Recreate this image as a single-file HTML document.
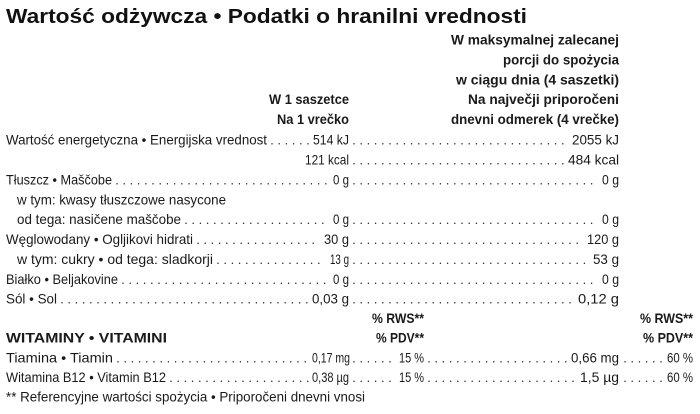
<!DOCTYPE html>
<html>
<head>
<meta charset="utf-8">
<style>
  html,body{margin:0;padding:0;background:#fff;}
  body{width:700px;height:414px;overflow:hidden;}
  svg{display:block;}
  text{font-family:"Liberation Sans","Noto Sans CJK JP",sans-serif;fill:#1a1a1a;}
  .t{font-size:20px;font-weight:bold;fill:#111;}
  .b{font-size:14px;font-weight:bold;}
  .r{font-size:14px;}
  line.d{stroke:#2a2a2a;stroke-width:1.5;stroke-linecap:round;stroke-dasharray:0 7.2;}
</style>
</head>
<body>
<svg width="700" height="414" viewBox="0 0 700 414" xmlns="http://www.w3.org/2000/svg">
  <rect width="700" height="414" fill="#fff"/>
  <!-- Title -->
  <text class="t" x="6" y="23" textLength="521" lengthAdjust="spacingAndGlyphs">Wartość odżywcza • Podatki o hranilni vrednosti</text>

  <!-- Right header -->
  <text class="b" x="451" y="44.5" textLength="168" lengthAdjust="spacingAndGlyphs">W maksymalnej zalecanej</text>
  <text class="b" x="503" y="64.5" textLength="116" lengthAdjust="spacingAndGlyphs">porcji do spożycia</text>
  <text class="b" x="456" y="84.5" textLength="163" lengthAdjust="spacingAndGlyphs">w ciągu dnia (4 saszetki)</text>
  <text class="b" x="468" y="104" textLength="151" lengthAdjust="spacingAndGlyphs">Na največji priporočeni</text>
  <text class="b" x="451" y="124" textLength="168" lengthAdjust="spacingAndGlyphs">dnevni odmerek (4 vrečke)</text>

  <!-- Left header -->
  <text class="b" x="269" y="104" textLength="80" lengthAdjust="spacingAndGlyphs">W 1 saszetce</text>
  <text class="b" x="277" y="124" textLength="72" lengthAdjust="spacingAndGlyphs">Na 1 vrečko</text>

  <!-- Row 0 -->
  <text class="r" x="6" y="144.5" textLength="261" lengthAdjust="spacingAndGlyphs">Wartość energetyczna • Energijska vrednost</text>
  <line class="d" x1="272" y1="143.7" x2="310" y2="143.7"/>
  <text class="r" x="313" y="144.5" textLength="36" lengthAdjust="spacingAndGlyphs">514 kJ</text>
  <line class="d" x1="354" y1="143.7" x2="563" y2="143.7"/>
  <text class="r" x="572" y="144.5" textLength="47" lengthAdjust="spacingAndGlyphs">2055 kJ</text>

  <!-- Row 1 -->
  <text class="r" x="305" y="164.5" textLength="44" lengthAdjust="spacingAndGlyphs">121 kcal</text>
  <line class="d" x1="354" y1="163.7" x2="563" y2="163.7"/>
  <text class="r" x="568" y="164.5" textLength="51" lengthAdjust="spacingAndGlyphs">484 kcal</text>

  <!-- Row 2 -->
  <text class="r" x="6" y="184.5" textLength="106" lengthAdjust="spacingAndGlyphs">Tłuszcz • Maščobe</text>
  <line class="d" x1="117" y1="183.7" x2="328" y2="183.7"/>
  <text class="r" x="333" y="184.5" textLength="16" lengthAdjust="spacingAndGlyphs">0 g</text>
  <line class="d" x1="354" y1="183.7" x2="597" y2="183.7"/>
  <text class="r" x="602" y="184.5" textLength="17" lengthAdjust="spacingAndGlyphs">0 g</text>

  <!-- Row 3 -->
  <text class="r" x="17" y="204.5" textLength="209" lengthAdjust="spacingAndGlyphs">w tym: kwasy tłuszczowe nasycone</text>

  <!-- Row 4 -->
  <text class="r" x="17" y="224" textLength="164" lengthAdjust="spacingAndGlyphs">od tega: nasičene maščobe</text>
  <line class="d" x1="186" y1="223.2" x2="328" y2="223.2"/>
  <text class="r" x="333" y="224" textLength="16" lengthAdjust="spacingAndGlyphs">0 g</text>
  <line class="d" x1="354" y1="223.2" x2="597" y2="223.2"/>
  <text class="r" x="602" y="224" textLength="17" lengthAdjust="spacingAndGlyphs">0 g</text>

  <!-- Row 5 -->
  <text class="r" x="6" y="244" textLength="187" lengthAdjust="spacingAndGlyphs">Węglowodany • Ogljikovi hidrati</text>
  <line class="d" x1="198" y1="243.2" x2="320" y2="243.2"/>
  <text class="r" x="324" y="244" textLength="25" lengthAdjust="spacingAndGlyphs">30 g</text>
  <line class="d" x1="354" y1="243.2" x2="583" y2="243.2"/>
  <text class="r" x="587" y="244" textLength="32" lengthAdjust="spacingAndGlyphs">120 g</text>

  <!-- Row 6 -->
  <text class="r" x="17" y="264" textLength="196" lengthAdjust="spacingAndGlyphs">w tym: cukry • od tega: sladkorji</text>
  <line class="d" x1="218" y1="263.2" x2="326" y2="263.2"/>
  <text class="r" x="330" y="264" textLength="19" lengthAdjust="spacingAndGlyphs">13 g</text>
  <line class="d" x1="354" y1="263.2" x2="589" y2="263.2"/>
  <text class="r" x="593" y="264" textLength="26" lengthAdjust="spacingAndGlyphs">53 g</text>

  <!-- Row 7 -->
  <text class="r" x="6" y="284" textLength="112" lengthAdjust="spacingAndGlyphs">Białko • Beljakovine</text>
  <line class="d" x1="123" y1="283.2" x2="328" y2="283.2"/>
  <text class="r" x="333" y="284" textLength="16" lengthAdjust="spacingAndGlyphs">0 g</text>
  <line class="d" x1="354" y1="283.2" x2="597" y2="283.2"/>
  <text class="r" x="602" y="284" textLength="17" lengthAdjust="spacingAndGlyphs">0 g</text>

  <!-- Row 8 -->
  <text class="r" x="6" y="303.5" textLength="51" lengthAdjust="spacingAndGlyphs">Sól • Sol</text>
  <line class="d" x1="62" y1="302.7" x2="308" y2="302.7"/>
  <text class="r" x="312" y="303.5" textLength="37" lengthAdjust="spacingAndGlyphs">0,03 g</text>
  <line class="d" x1="354" y1="302.7" x2="574" y2="302.7"/>
  <text class="r" x="578" y="303.5" textLength="41" lengthAdjust="spacingAndGlyphs">0,12 g</text>

  <!-- Row 9 -->
  <text class="b" x="372" y="323" textLength="52" lengthAdjust="spacingAndGlyphs">% RWS**</text>
  <text class="b" x="640" y="323" textLength="53" lengthAdjust="spacingAndGlyphs">% RWS**</text>

  <!-- Row 10 -->
  <text class="b" x="6" y="342.5" textLength="161" lengthAdjust="spacingAndGlyphs">WITAMINY • VITAMINI</text>
  <text class="b" x="376" y="342.5" textLength="48" lengthAdjust="spacingAndGlyphs">% PDV**</text>
  <text class="b" x="643" y="342.5" textLength="50" lengthAdjust="spacingAndGlyphs">% PDV**</text>

  <!-- Row 11 -->
  <text class="r" x="6" y="362.5" textLength="107" lengthAdjust="spacingAndGlyphs">Tiamina • Tiamin</text>
  <line class="d" x1="118" y1="361.7" x2="308" y2="361.7"/>
  <text class="r" x="312" y="362.5" textLength="38" lengthAdjust="spacingAndGlyphs">0,17 mg</text>
  <line class="d" x1="354" y1="361.7" x2="393" y2="361.7"/>
  <text class="r" x="399" y="362.5" textLength="25" lengthAdjust="spacingAndGlyphs">15 %</text>
  <line class="d" x1="429" y1="361.7" x2="566" y2="361.7"/>
  <text class="r" x="571" y="362.5" textLength="48" lengthAdjust="spacingAndGlyphs">0,66 mg</text>
  <line class="d" x1="625" y1="361.7" x2="661" y2="361.7"/>
  <text class="r" x="667" y="362.5" textLength="26" lengthAdjust="spacingAndGlyphs">60 %</text>

  <!-- Row 12 -->
  <text class="r" x="6" y="382" textLength="160" lengthAdjust="spacingAndGlyphs">Witamina B12 • Vitamin B12</text>
  <line class="d" x1="171" y1="381.2" x2="308" y2="381.2"/>
  <text class="r" x="312" y="382" textLength="37" lengthAdjust="spacingAndGlyphs">0,38 µg</text>
  <line class="d" x1="354" y1="381.2" x2="393" y2="381.2"/>
  <text class="r" x="399" y="382" textLength="25" lengthAdjust="spacingAndGlyphs">15 %</text>
  <line class="d" x1="429" y1="381.2" x2="575" y2="381.2"/>
  <text class="r" x="580" y="382" textLength="39" lengthAdjust="spacingAndGlyphs">1,5 µg</text>
  <line class="d" x1="625" y1="381.2" x2="661" y2="381.2"/>
  <text class="r" x="667" y="382" textLength="26" lengthAdjust="spacingAndGlyphs">60 %</text>

  <!-- Footnote -->
  <text class="r" x="6" y="401.5" textLength="359" lengthAdjust="spacingAndGlyphs">** Referencyjne wartości spożycia • Priporočeni dnevni vnosi</text>
</svg>
</body>
</html>
